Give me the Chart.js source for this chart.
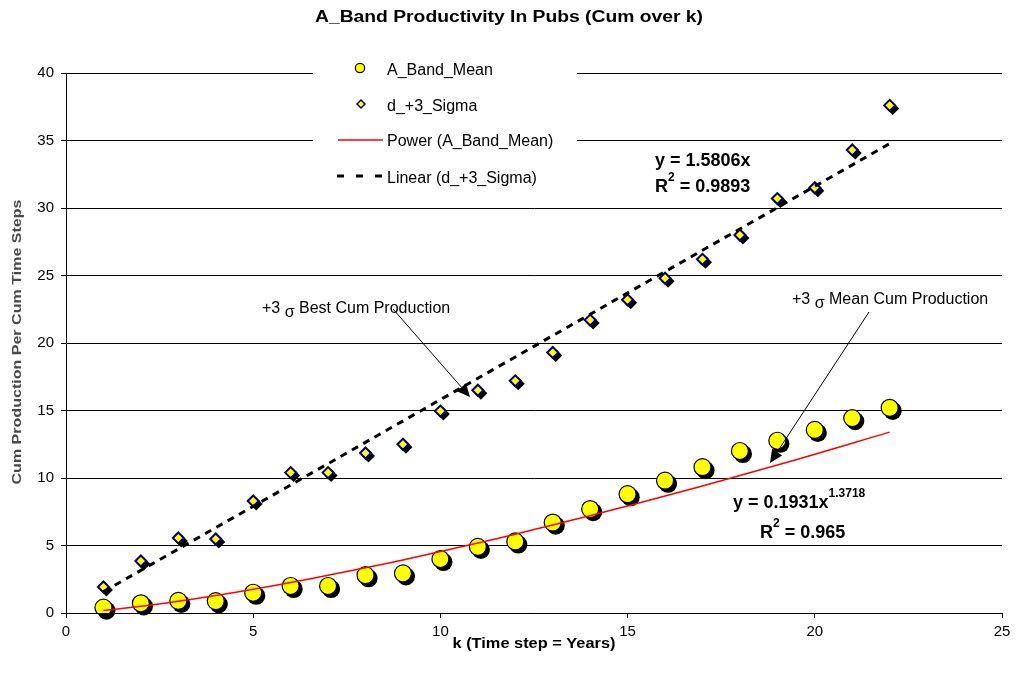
<!DOCTYPE html>
<html lang="en">
<head>
    <meta charset="UTF-8">
    <title>A_Band Productivity In Pubs (Cum over k)</title>
    <script src="https://cdn.jsdelivr.net/npm/chart.js"></script>
    <style>
        body {
            margin: 0;
            background-color: #fff;
        }
        .chart-box {
            position: relative;
            width: 1016px;
            height: 683px;
        }
    </style>
</head>
<body>
    <div class="chart-box">
        <canvas id="prodChart" width="1016" height="683"></canvas>
    </div>
    <script>
        // values
        const kSteps = [1, 2, 3, 4, 5, 6, 7, 8, 9, 10, 11, 12, 13, 14, 15, 16, 17, 18, 19, 20, 21, 22];
        const bandMean = [0.4, 0.72, 0.9, 0.88, 1.5, 2.0, 2.0, 2.8, 2.94, 4.0, 4.9, 5.3, 6.7, 7.7, 8.8, 9.8, 10.8, 12.0, 12.76, 13.56, 14.44, 15.2];
        const sigmaBest = [1.93, 3.85, 5.56, 5.48, 8.3, 10.4, 10.4, 11.85, 12.5, 14.96, 16.5, 17.2, 19.3, 21.7, 23.2, 24.8, 26.2, 28.0, 30.7, 31.5, 34.3, 37.6];
        // trend lines as drawn in the picture
        const powerFit = [0.19, 0.5, 0.87, 1.29, 1.76, 2.26, 2.79, 3.35, 3.93, 4.55, 5.18, 5.84, 6.52, 7.21, 7.93, 8.66, 9.41, 10.18, 10.96, 11.76, 12.58, 13.4];
        const linearK = [1, 22];
        const linearFit = [1.58, 34.77];
        const xTickValues = [0, 5, 10, 15, 20, 25];
        const yTickValues = [0, 5, 10, 15, 20, 25, 30, 35, 40];

        const FONT = 'Arial, "Liberation Sans", sans-serif';

        const toPoints = (xs, ys) => xs.map((x, i) => ({ x: x, y: ys[i] }));

        // black offset shadow under the markers, like the spreadsheet original
        const markerShadow = {
            id: 'markerShadow',
            beforeDatasetDraw(chart, args) {
                const ds = chart.data.datasets[args.index];
                if (!ds.shadowShape) return;
                const ctx = chart.ctx;
                const r = ds.pointRadius + ds.pointBorderWidth / 2;
                ctx.save();
                ctx.fillStyle = '#000';
                args.meta.data.forEach(pt => {
                    const x = pt.x + 3, y = pt.y + 3;
                    ctx.beginPath();
                    if (ds.shadowShape === 'circle') {
                        ctx.arc(x, y, r, 0, Math.PI * 2);
                    } else {
                        ctx.moveTo(x, y - r);
                        ctx.lineTo(x + r, y);
                        ctx.lineTo(x, y + r);
                        ctx.lineTo(x - r, y);
                        ctx.closePath();
                    }
                    ctx.fill();
                });
                ctx.restore();
            }
        };

        function textAt(ctx, str, x, y, font, align) {
            ctx.font = font;
            ctx.textAlign = align || 'left';
            ctx.textBaseline = 'middle';
            ctx.fillText(str, x, y);
            return ctx.measureText(str).width;
        }

        // centred text stretched sideways to a given width (the original font is wider)
        function wideText(ctx, str, x, y, font, width) {
            ctx.font = font;
            const w = ctx.measureText(str).width;
            ctx.save();
            ctx.translate(x, y);
            ctx.scale(width / w, 1);
            textAt(ctx, str, 0, 0, font, 'center');
            ctx.restore();
        }

        function arrow(ctx, x1, y1, x2, y2) {
            const ang = Math.atan2(y2 - y1, x2 - x1);
            const len = 13, half = 6;
            const bx = x2 - Math.cos(ang) * len, by = y2 - Math.sin(ang) * len;
            ctx.beginPath();
            ctx.moveTo(x1, y1);
            ctx.lineTo(bx, by);
            ctx.lineWidth = 1;
            ctx.strokeStyle = '#000';
            ctx.stroke();
            ctx.beginPath();
            ctx.moveTo(x2, y2);
            ctx.lineTo(bx + Math.sin(ang) * half, by - Math.cos(ang) * half);
            ctx.lineTo(bx - Math.sin(ang) * half, by + Math.cos(ang) * half);
            ctx.closePath();
            ctx.fillStyle = '#000';
            ctx.fill();
        }

        function sigmaLabel(ctx, x, y, rest) {
            const f = '16px ' + FONT;
            let w = textAt(ctx, '+3 ', x, y, f);
            w += textAt(ctx, '\u03c3', x + w, y + 4, f);
            textAt(ctx, ' ' + rest, x + w, y, f);
        }

        function equation(ctx, x, y, main, sup, tail) {
            const f = 'bold 18px ' + FONT;
            let w = textAt(ctx, main, x, y, f);
            if (sup) w += textAt(ctx, sup, x + w, y - 9, 'bold 12px ' + FONT);
            if (tail) textAt(ctx, tail, x + w, y, f);
        }

        const decorations = {
            id: 'decorations',
            afterDraw(chart) {
                const ctx = chart.ctx;
                const area = chart.chartArea;
                ctx.save();
                ctx.fillStyle = '#000';

                // title
                wideText(ctx, 'A_Band Productivity In Pubs (Cum over k)', 509, 18, 'bold 16px ' + FONT, 388);

                // axis titles
                wideText(ctx, 'k (Time step = Years)', (area.left + area.right) / 2, 644, 'bold 15px ' + FONT, 163);
                ctx.save();
                ctx.translate(17, 342);
                ctx.rotate(-Math.PI / 2);
                ctx.fillStyle = '#4a4a4a';
                wideText(ctx, 'Cum Production Per Cum Time Steps', 0, 0, 'bold 13px ' + FONT, 285);
                ctx.restore();

                // legend box sits on the grid
                ctx.fillStyle = '#fff';
                ctx.fillRect(313, 55, 264, 140);

                ctx.beginPath();
                ctx.arc(360, 68, 4.7, 0, Math.PI * 2);
                ctx.fillStyle = '#ffff00';
                ctx.fill();
                ctx.lineWidth = 1.2;
                ctx.strokeStyle = '#000';
                ctx.stroke();

                ctx.beginPath();
                ctx.moveTo(361, 100);
                ctx.lineTo(365, 104);
                ctx.lineTo(361, 108);
                ctx.lineTo(357, 104);
                ctx.closePath();
                ctx.fillStyle = '#ffff00';
                ctx.fill();
                ctx.lineWidth = 1.5;
                ctx.strokeStyle = '#000080';
                ctx.stroke();

                ctx.beginPath();
                ctx.moveTo(338, 140);
                ctx.lineTo(383, 140);
                ctx.lineWidth = 1.5;
                ctx.strokeStyle = '#ff0000';
                ctx.stroke();

                ctx.beginPath();
                ctx.setLineDash([7, 12]);
                ctx.moveTo(337, 176);
                ctx.lineTo(382, 176);
                ctx.lineWidth = 3;
                ctx.strokeStyle = '#000';
                ctx.stroke();
                ctx.setLineDash([]);

                ctx.fillStyle = '#000';
                const lf = '16px ' + FONT;
                textAt(ctx, 'A_Band_Mean', 387, 71, lf);
                textAt(ctx, 'd_+3_Sigma', 387, 107, lf);
                textAt(ctx, 'Power (A_Band_Mean)', 387, 142, lf);
                textAt(ctx, 'Linear (d_+3_Sigma)', 387, 179, lf);

                // notes and arrows
                sigmaLabel(ctx, 262, 309, 'Best Cum Production');
                arrow(ctx, 393, 309, 470, 397);
                sigmaLabel(ctx, 792, 300, 'Mean Cum Production');
                arrow(ctx, 869, 312, 770, 463);

                // trend equations
                equation(ctx, 655, 161, 'y = 1.5806x');
                equation(ctx, 655, 187, 'R', '2', ' = 0.9893');
                equation(ctx, 733, 503, 'y = 0.1931x', '1.3718');
                equation(ctx, 760, 533, 'R', '2', ' = 0.965');

                ctx.restore();
            }
        };

        new Chart(document.getElementById('prodChart'), {
            type: 'scatter',
            data: {
                datasets: [
                    {
                        label: 'Power (A_Band_Mean)',
                        data: toPoints(kSteps, powerFit),
                        showLine: true,
                        borderColor: '#ff0000',
                        borderWidth: 1.5,
                        pointRadius: 0,
                        tension: 0.3,
                        order: 0
                    },
                    {
                        label: 'Linear (d_+3_Sigma)',
                        data: toPoints(linearK, linearFit),
                        showLine: true,
                        borderColor: '#000',
                        borderWidth: 3,
                        borderDash: [7, 6],
                        pointRadius: 0,
                        order: 1
                    },
                    {
                        label: 'd_+3_Sigma',
                        data: toPoints(kSteps, sigmaBest),
                        pointStyle: 'rectRot',
                        pointRadius: 5.5,
                        pointBorderWidth: 2,
                        pointBackgroundColor: '#ffff00',
                        pointBorderColor: '#000080',
                        shadowShape: 'diamond',
                        order: 2
                    },
                    {
                        label: 'A_Band_Mean',
                        data: toPoints(kSteps, bandMean),
                        pointStyle: 'circle',
                        pointRadius: 8.5,
                        pointBorderWidth: 1.2,
                        pointBackgroundColor: '#ffff00',
                        pointBorderColor: '#000',
                        shadowShape: 'circle',
                        order: 3
                    }
                ]
            },
            options: {
                responsive: false,
                animation: false,
                devicePixelRatio: 1,
                layout: { padding: { top: 73, right: 14, left: 0, bottom: 0 } },
                plugins: {
                    legend: { display: false },
                    tooltip: { enabled: false }
                },
                scales: {
                    x: {
                        type: 'linear',
                        min: 0,
                        max: 25,
                        afterBuildTicks: s => { s.ticks = xTickValues.map(v => ({ value: v })); },
                        afterFit: s => { s.height = 70; },
                        grid: { drawOnChartArea: false, color: '#000', tickLength: 5 },
                        border: { color: '#000', width: 1 },
                        ticks: { color: '#000', padding: 5, font: { size: 15, family: FONT } }
                    },
                    y: {
                        min: 0,
                        max: 40,
                        afterBuildTicks: s => { s.ticks = yTickValues.map(v => ({ value: v })); },
                        afterFit: s => { s.width = 66; },
                        grid: { color: '#000', lineWidth: 1, tickLength: 5 },
                        border: { color: '#000', width: 1 },
                        ticks: { color: '#000', padding: 7, font: { size: 15, family: FONT } }
                    }
                }
            },
            plugins: [markerShadow, decorations]
        });
    </script>
</body>
</html>
